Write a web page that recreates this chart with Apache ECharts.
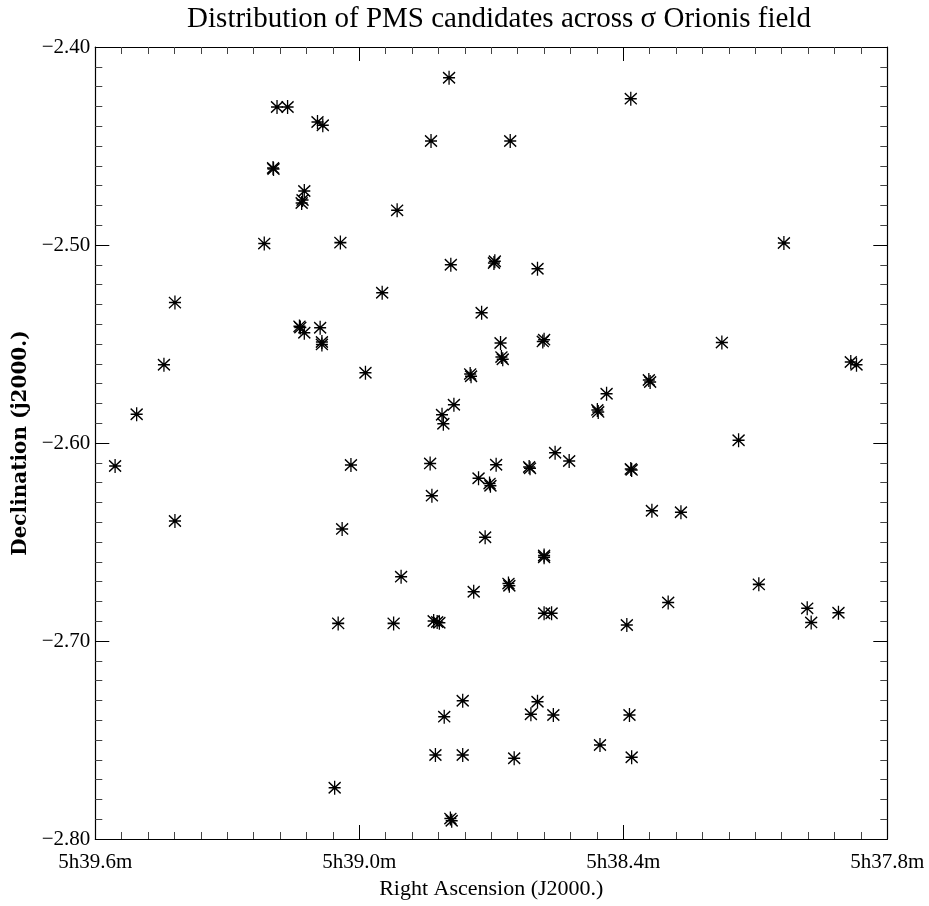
<!DOCTYPE html>
<html>
<head>
<meta charset="utf-8">
<script src="https://cdn.jsdelivr.net/npm/echarts@6/dist/echarts.min.js"></script>
<style>
html,body{margin:0;padding:0;background:#fff;}
#chart{width:929px;height:906px;}
</style>
</head>
<body>
<div id="chart"></div>
<script>
// Right ascension: minutes past 5h
var raMin = [
  38.796, 39.187, 39.163, 39.095, 39.083, 38.837, 39.196, 39.195, 39.125, 39.131,
  39.129, 38.914, 39.216, 39.043, 38.792, 38.692, 38.694, 38.595, 38.657, 38.383,
  38.035, 38.948, 39.419, 38.722, 39.136, 39.134, 39.125, 39.089, 39.085, 39.085,
  38.679, 38.674, 38.677, 38.580, 38.583, 38.176, 37.883, 37.870, 39.444, 38.986,
  38.746, 38.748, 38.339, 38.342, 38.438, 38.457, 38.459, 38.785, 38.812, 38.809,
  39.506, 38.138, 38.555, 38.523, 39.555, 39.019, 38.839, 38.689, 38.612, 38.614,
  38.381, 38.383, 38.729, 38.702, 38.704, 38.835, 38.335, 38.269, 39.419, 39.039,
  38.714, 38.580, 38.580, 38.905, 38.659, 38.661, 38.092, 38.740, 38.298, 37.982,
  37.973, 37.911, 38.580, 38.563, 39.048, 38.922, 38.831, 38.818, 38.823, 38.392,
  38.765, 38.595, 38.807, 38.610, 38.559, 38.386, 38.453, 38.827, 38.765, 38.648,
  38.381, 39.056, 38.790, 38.793
];
// Declination (degrees)
var decDeg = [
  -2.4155, -2.4303, -2.4303, -2.4379, -2.4395, -2.4475, -2.4611, -2.4616, -2.4727, -2.4788,
  -2.4773, -2.4825, -2.4993, -2.4988, -2.5100, -2.5082, -2.5091, -2.5120, -2.4475, -2.4261,
  -2.4990, -2.5241, -2.5291, -2.5342, -2.5411, -2.5417, -2.5443, -2.5418, -2.5502, -2.5490,
  -2.5495, -2.5577, -2.5566, -2.5478, -2.5487, -2.5493, -2.5591, -2.5605, -2.5605, -2.5645,
  -2.5663, -2.5652, -2.5692, -2.5682, -2.5751, -2.5843, -2.5833, -2.5807, -2.5857, -2.5903,
  -2.5855, -2.5986, -2.6049, -2.6091, -2.6116, -2.6111, -2.6103, -2.6110, -2.6128, -2.6121,
  -2.6136, -2.6131, -2.6178, -2.6216, -2.6205, -2.6266, -2.6342, -2.6350, -2.6394, -2.6434,
  -2.6476, -2.6577, -2.6568, -2.6675, -2.6721, -2.6710, -2.6714, -2.6751, -2.6805, -2.6835,
  -2.6906, -2.6857, -2.6860, -2.6860, -2.6911, -2.6911, -2.6899, -2.6908, -2.6904, -2.6919,
  -2.7302, -2.7307, -2.7382, -2.7370, -2.7374, -2.7374, -2.7525, -2.7576, -2.7576, -2.7592,
  -2.7587, -2.7741, -2.7908, -2.7897
];
var xTickValues = [39.6, 39.0, 38.4, 37.8];
var yTickValues = [-2.40, -2.50, -2.60, -2.70, -2.80];

var titleText = 'Distribution of PMS candidates across \u03c3 Orionis field';
var xName = 'Right Ascension (J2000.)';
var yName = 'Declination (j2000.)';

var points = [];
for (var i = 0; i < raMin.length; i++) points.push([raMin[i], decDeg[i]]);

var serif = '"Liberation Serif", serif';
function fmtX(v) { return '5h' + v.toFixed(1) + 'm'; }
function fmtY(v) { return (v < 0 ? '\u2212' : '') + Math.abs(v).toFixed(2); }

function xAxisDef(pos, show) {
  return {
    type: 'value', position: pos, inverse: true,
    min: 37.8, max: 39.6, interval: 0.6,
    axisLine: { show: true, onZero: false, lineStyle: { color: '#000', width: 1.2 } },
    axisTick: { show: true, inside: true, length: 14, lineStyle: { color: '#000', width: 1 } },
    minorTick: { show: true, splitNumber: 10, length: 7, lineStyle: { color: '#444', width: 1 } },
    splitLine: { show: false },
    axisLabel: { show: show, formatter: fmtX, margin: 13, color: '#000',
      fontFamily: serif, fontSize: 21 },
    name: show ? xName : '', nameLocation: 'middle', nameGap: 35,
    nameTextStyle: { fontFamily: serif, fontSize: 22, color: '#000' }
  };
}
function yAxisDef(pos, show) {
  return {
    type: 'value', position: pos,
    min: -2.8, max: -2.4, interval: 0.1,
    axisLine: { show: true, onZero: false, lineStyle: { color: '#000', width: 1.2 } },
    axisTick: { show: true, inside: true, length: 14, lineStyle: { color: '#000', width: 1 } },
    minorTick: { show: true, splitNumber: 10, length: 7, lineStyle: { color: '#444', width: 1 } },
    splitLine: { show: false },
    axisLabel: { show: show, formatter: fmtY, margin: 5, color: '#000',
      fontFamily: serif, fontSize: 21 },
    name: show ? yName : '', nameLocation: 'middle', nameGap: 60, nameRotate: 90,
    nameTextStyle: { fontFamily: '"DejaVu Serif", serif', fontWeight: 'bold', fontSize: 20, color: '#000' }
  };
}

var chart = echarts.init(document.getElementById('chart'), null, { renderer: 'canvas' });
chart.setOption({
  backgroundColor: '#fff',
  animation: false,
  title: {
    text: titleText, left: 494, textAlign: 'center', top: 0,
    textStyle: { fontFamily: serif, fontSize: 29, fontWeight: 'normal', color: '#000' }
  },
  grid: { left: 95.3, right: 41.7, top: 47, bottom: 67 },
  xAxis: [xAxisDef('bottom', true), xAxisDef('top', false)],
  yAxis: [yAxisDef('left', true), yAxisDef('right', false)],
  series: [{
    type: 'scatter',
    xAxisIndex: 0, yAxisIndex: 0,
    data: points,
    symbol: 'path://M0,-1L0,1M-0.85,0L0.85,0M-0.85,-0.8L0.85,0.8M-0.85,0.8L0.85,-0.8',
    symbolSize: [12, 14],
    itemStyle: { color: 'rgba(0,0,0,0)', borderColor: '#000', borderWidth: 1.4, opacity: 1 },
    emphasis: { disabled: true }
  }]
});
</script>
</body>
</html>
